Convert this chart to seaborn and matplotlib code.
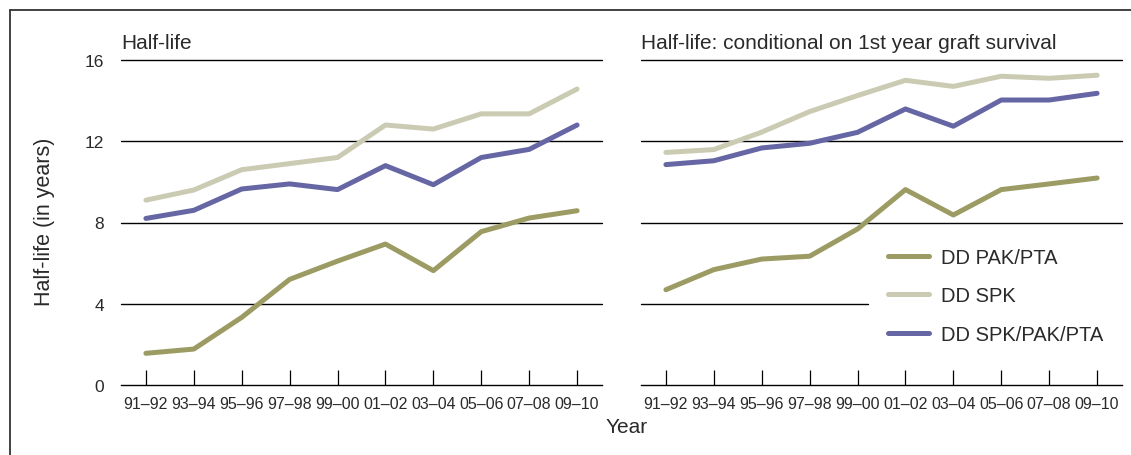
import matplotlib.pyplot as plt
import matplotlib.lines as mlines
import pandas as pd
import seaborn as sns

# Data
periods = ["91–92", "93–94", "95–96", "97–98", "99–00",
           "01–02", "03–04", "05–06", "07–08", "09–10"]
series_names = ["DD PAK/PTA", "DD SPK", "DD SPK/PAK/PTA"]

# Half-life
hl_pak = [1.56, 1.77, 3.33, 5.2, 6.1, 6.94, 5.63, 7.55, 8.22, 8.58]
hl_spk = [9.1, 9.6, 10.6, 10.9, 11.2, 12.8, 12.6, 13.35, 13.35, 14.57]
hl_spk_pak = [8.2, 8.6, 9.65, 9.9, 9.62, 10.8, 9.86, 11.2, 11.6, 12.8]

# Half-life conditional on 1st year graft survival
cond_pak = [4.69, 5.68, 6.2, 6.34, 7.68, 9.62, 8.37, 9.62, 9.9, 10.19]
cond_spk = [11.45, 11.59, 12.45, 13.46, 14.25, 15.0, 14.7, 15.2, 15.1, 15.25]
cond_spk_pak = [10.85, 11.04, 11.67, 11.9, 12.44, 13.59, 12.74, 14.03, 14.03, 14.36]

yticks = [0, 4, 8, 12, 16]
colors = {"DD PAK/PTA": "#9b9b63", "DD SPK": "#cbcbb3", "DD SPK/PAK/PTA": "#6566a3"}


def long_df(pak, spk, spk_pak):
    rows = []
    for name, vals in zip(series_names, [pak, spk, spk_pak]):
        for i, v in enumerate(vals):
            rows.append({"x": i, "value": v, "series": name})
    return pd.DataFrame(rows)


df_hl = long_df(hl_pak, hl_spk, hl_spk_pak)
df_cond = long_df(cond_pak, cond_spk, cond_spk_pak)

sns.set_style("white")
plt.rcParams["font.family"] = ["Liberation Sans", "DejaVu Sans"]
text_color = "#2a2a2a"

fig = plt.figure(figsize=(11.31, 4.56), dpi=100)
fig.set_facecolor("white")

ax1 = fig.add_axes([121 / 1131, 70 / 456, 481 / 1131, 325 / 456])
ax2 = fig.add_axes([641 / 1131, 70 / 456, 481 / 1131, 325 / 456])

for ax, df, title in [(ax1, df_hl, "Half-life"),
                      (ax2, df_cond, "Half-life: conditional on 1st year graft survival")]:
    sns.lineplot(data=df, x="x", y="value", hue="series", palette=colors,
                 linewidth=3.6, solid_capstyle="round", ax=ax, legend=(ax is ax2))
    ax.set_xlim(-0.52, 9.52)
    ax.set_ylim(0, 16)
    ax.set_xticks(range(len(periods)))
    ax.set_xticklabels(periods)
    ax.set_yticks(yticks)
    for y in yticks[1:]:
        # the legend hides the right part of the "4" gridline in the right panel
        xmax = 0.472 if (ax is ax2 and y == 4) else 1
        ax.axhline(y, xmax=xmax, color="black", lw=1.0, zorder=0, clip_on=False)
    for side in ["top", "left", "right"]:
        ax.spines[side].set_visible(False)
    ax.spines["bottom"].set(color="black", linewidth=1.0)
    ax.tick_params(axis="x", bottom=True, direction="in", length=11, width=0.9,
                   color="black", pad=8, labelsize=11.5, labelcolor=text_color)
    ax.tick_params(axis="y", left=False, length=0, pad=12, labelsize=12.5,
                   labelcolor=text_color)
    ax.set_xlabel("")
    ax.set_ylabel("")
    ax.text(0, 1.025, title, transform=ax.transAxes, ha="left", va="bottom",
            fontsize=15, color=text_color)

ax2.set_yticklabels([])

leg = ax2.legend(loc="center left", bbox_to_anchor=(0.468, 0.274), frameon=True,
                 facecolor="white", edgecolor="none", framealpha=1,
                 fontsize=14.5, handlelength=2.0, handletextpad=0.6,
                 labelspacing=0.95, borderpad=0.6)
for h in leg.get_lines():
    h.set_linewidth(3.6)
    h.set_solid_capstyle("round")
for t in leg.get_texts():
    t.set_color(text_color)

fig.text(45 / 1131, 1 - 222 / 456, "Half-life (in years)", rotation=90,
         ha="center", va="center", fontsize=15.5, color=text_color)
fig.text(627 / 1131, 1 - 428 / 456, "Year", ha="center", va="center",
         fontsize=15, color=text_color)

# Frame lines (left and top)
fig.add_artist(mlines.Line2D([10 / 1131, 10 / 1131], [0, 1 - 11 / 456],
                             color="#333333", lw=1.3, transform=fig.transFigure))
fig.add_artist(mlines.Line2D([10 / 1131, 1], [1 - 11 / 456, 1 - 11 / 456],
                             color="#333333", lw=1.3, transform=fig.transFigure))

fig.savefig("out.png", dpi=100, facecolor="white")
